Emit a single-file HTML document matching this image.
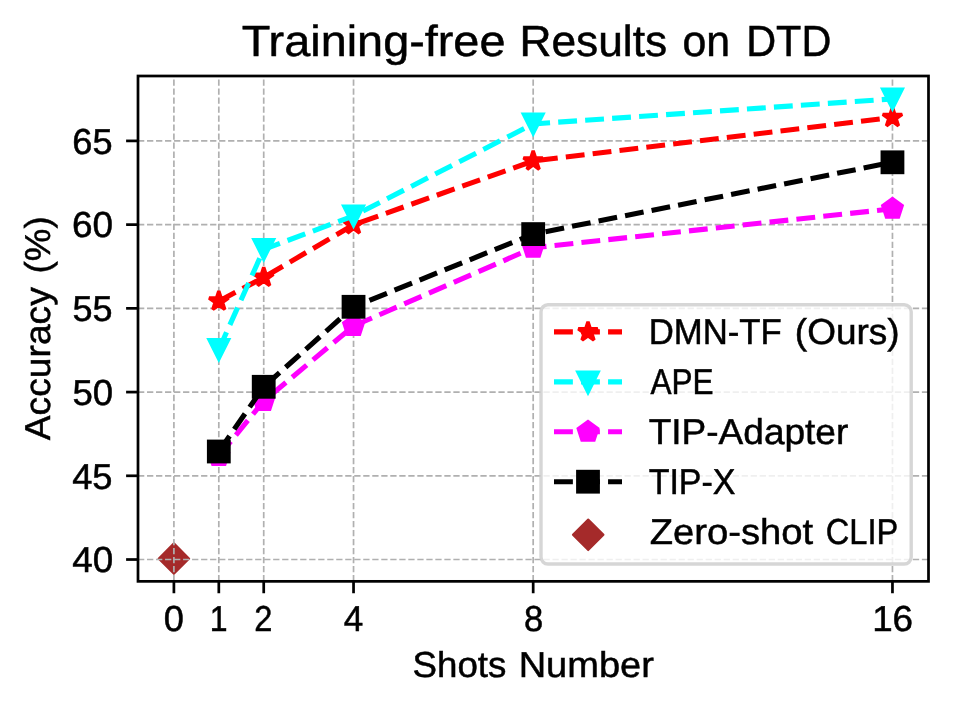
<!DOCTYPE html>
<html lang="en"><head><meta charset="utf-8"><title>Training-free Results on DTD</title>
<style>html,body{margin:0;padding:0;background:#fff;}body{width:953px;height:709px;overflow:hidden;}svg{display:block;will-change:transform;}text{font-family:"Liberation Sans",sans-serif;fill:#000;stroke:#000;stroke-width:0.5px;text-rendering:geometricPrecision;}</style></head><body>
<svg width="953" height="709" viewBox="0 0 953 709">
<rect x="0" y="0" width="953" height="709" fill="#fff"/>
<polygon points="173.9,543.3 189.2,558.6 173.9,573.9 158.6,558.6" fill="#a52a2a" stroke="#a52a2a" stroke-width="2" stroke-linejoin="round"/>
<g stroke="#b0b0b0" stroke-width="1.7" stroke-dasharray="6.29 2.72" fill="none"><line x1="173.9" y1="581.35" x2="173.9" y2="76"/><line x1="218.81" y1="581.35" x2="218.81" y2="76"/><line x1="263.72" y1="581.35" x2="263.72" y2="76"/><line x1="353.54" y1="581.35" x2="353.54" y2="76"/><line x1="533.18" y1="581.35" x2="533.18" y2="76"/><line x1="892.46" y1="581.35" x2="892.46" y2="76"/><line x1="138" y1="559.52" x2="928.5" y2="559.52"/><line x1="138" y1="475.8" x2="928.5" y2="475.8"/><line x1="138" y1="392.08" x2="928.5" y2="392.08"/><line x1="138" y1="308.35" x2="928.5" y2="308.35"/><line x1="138" y1="224.62" x2="928.5" y2="224.62"/><line x1="138" y1="140.9" x2="928.5" y2="140.9"/></g>
<polyline points="218.81,301.2 263.72,277.4 353.54,224.8 533.18,161 892.46,117.5" fill="none" stroke="#ff0000" stroke-width="5.1" stroke-dasharray="18.87 8.16"/>
<polygon points="218.81,291 216.52,298.05 209.11,298.05 215.1,302.4 212.81,309.45 218.81,305.1 224.81,309.45 222.52,302.4 228.51,298.05 221.1,298.05" fill="#ff0000" stroke="#ff0000" stroke-width="3.4" stroke-linejoin="bevel"/>
<polygon points="263.72,267.2 261.43,274.25 254.02,274.25 260.01,278.6 257.72,285.65 263.72,281.3 269.72,285.65 267.43,278.6 273.42,274.25 266.01,274.25" fill="#ff0000" stroke="#ff0000" stroke-width="3.4" stroke-linejoin="bevel"/>
<polygon points="353.54,214.6 351.25,221.65 343.84,221.65 349.83,226 347.54,233.05 353.54,228.7 359.54,233.05 357.25,226 363.24,221.65 355.83,221.65" fill="#ff0000" stroke="#ff0000" stroke-width="3.4" stroke-linejoin="bevel"/>
<polygon points="533.18,150.8 530.89,157.85 523.48,157.85 529.47,162.2 527.18,169.25 533.18,164.9 539.18,169.25 536.89,162.2 542.88,157.85 535.47,157.85" fill="#ff0000" stroke="#ff0000" stroke-width="3.4" stroke-linejoin="bevel"/>
<polygon points="892.46,107.3 890.17,114.35 882.76,114.35 888.75,118.7 886.46,125.75 892.46,121.4 898.46,125.75 896.17,118.7 902.16,114.35 894.75,114.35" fill="#ff0000" stroke="#ff0000" stroke-width="3.4" stroke-linejoin="bevel"/>

<polyline points="218.81,349.5 263.72,249.4 353.54,215.9 533.18,123.9 892.46,98.9" fill="none" stroke="#00ffff" stroke-width="5.1" stroke-dasharray="18.87 8.16"/>
<polygon points="218.81,359.3 228.61,339.7 209.01,339.7" fill="#00ffff" stroke="#00ffff" stroke-width="3.4" stroke-linejoin="miter" stroke-miterlimit="10"/>
<polygon points="263.72,259.2 273.52,239.6 253.92,239.6" fill="#00ffff" stroke="#00ffff" stroke-width="3.4" stroke-linejoin="miter" stroke-miterlimit="10"/>
<polygon points="353.54,225.7 363.34,206.1 343.74,206.1" fill="#00ffff" stroke="#00ffff" stroke-width="3.4" stroke-linejoin="miter" stroke-miterlimit="10"/>
<polygon points="533.18,133.7 542.98,114.1 523.38,114.1" fill="#00ffff" stroke="#00ffff" stroke-width="3.4" stroke-linejoin="miter" stroke-miterlimit="10"/>
<polygon points="892.46,108.7 902.26,89.1 882.66,89.1" fill="#00ffff" stroke="#00ffff" stroke-width="3.4" stroke-linejoin="miter" stroke-miterlimit="10"/>

<polyline points="218.81,456 263.72,401 353.54,326 533.18,247.8 892.46,208.8" fill="none" stroke="#ff00ff" stroke-width="5.1" stroke-dasharray="18.87 8.16"/>
<polygon points="218.81,445.8 209.11,452.85 212.81,464.25 224.81,464.25 228.51,452.85" fill="#ff00ff" stroke="#ff00ff" stroke-width="3.4" stroke-linejoin="miter"/>
<polygon points="263.72,390.8 254.02,397.85 257.72,409.25 269.72,409.25 273.42,397.85" fill="#ff00ff" stroke="#ff00ff" stroke-width="3.4" stroke-linejoin="miter"/>
<polygon points="353.54,315.8 343.84,322.85 347.54,334.25 359.54,334.25 363.24,322.85" fill="#ff00ff" stroke="#ff00ff" stroke-width="3.4" stroke-linejoin="miter"/>
<polygon points="533.18,237.6 523.48,244.65 527.18,256.05 539.18,256.05 542.88,244.65" fill="#ff00ff" stroke="#ff00ff" stroke-width="3.4" stroke-linejoin="miter"/>
<polygon points="892.46,198.6 882.76,205.65 886.46,217.05 898.46,217.05 902.16,205.65" fill="#ff00ff" stroke="#ff00ff" stroke-width="3.4" stroke-linejoin="miter"/>

<polyline points="218.81,451.5 263.72,386.8 353.54,306.8 533.18,234.1 892.46,162.3" fill="none" stroke="#000000" stroke-width="5.1" stroke-dasharray="18.87 8.16"/>
<rect x="206.91" y="439.6" width="23.8" height="23.8" fill="#000000"/>
<rect x="251.82" y="374.9" width="23.8" height="23.8" fill="#000000"/>
<rect x="341.64" y="294.9" width="23.8" height="23.8" fill="#000000"/>
<rect x="521.28" y="222.2" width="23.8" height="23.8" fill="#000000"/>
<rect x="880.56" y="150.4" width="23.8" height="23.8" fill="#000000"/>

<g stroke="#000" stroke-width="2.72" fill="none"><line x1="173.9" y1="581.35" x2="173.9" y2="593.25"/><line x1="218.81" y1="581.35" x2="218.81" y2="593.25"/><line x1="263.72" y1="581.35" x2="263.72" y2="593.25"/><line x1="353.54" y1="581.35" x2="353.54" y2="593.25"/><line x1="533.18" y1="581.35" x2="533.18" y2="593.25"/><line x1="892.46" y1="581.35" x2="892.46" y2="593.25"/><line x1="126.1" y1="559.52" x2="138" y2="559.52"/><line x1="126.1" y1="475.8" x2="138" y2="475.8"/><line x1="126.1" y1="392.08" x2="138" y2="392.08"/><line x1="126.1" y1="308.35" x2="138" y2="308.35"/><line x1="126.1" y1="224.62" x2="138" y2="224.62"/><line x1="126.1" y1="140.9" x2="138" y2="140.9"/></g>
<rect x="138" y="76" width="790.5" height="505.35" fill="none" stroke="#000" stroke-width="2.72" stroke-linejoin="miter"/>
<rect x="541" y="304.8" width="370.2" height="259.2" rx="6.9" ry="6.9" fill="#fff" fill-opacity="0.8" stroke="#ccc" stroke-opacity="0.8" stroke-width="3.4"/>
<line x1="554" y1="331.9" x2="622" y2="331.9" stroke="#ff0000" stroke-width="5.1" stroke-dasharray="18.87 8.16"/>
<polygon points="588,321.7 585.71,328.75 578.3,328.75 584.29,333.1 582,340.15 588,335.8 594,340.15 591.71,333.1 597.7,328.75 590.29,328.75" fill="#ff0000" stroke="#ff0000" stroke-width="3.4" stroke-linejoin="bevel"/>
<line x1="554" y1="381.9" x2="622" y2="381.9" stroke="#00ffff" stroke-width="5.1" stroke-dasharray="18.87 8.16"/>
<polygon points="588,392.4 598.1,372.2 577.9,372.2" fill="#00ffff" stroke="#00ffff" stroke-width="3.4" stroke-linejoin="miter" stroke-miterlimit="10"/>
<line x1="554" y1="431.8" x2="622" y2="431.8" stroke="#ff00ff" stroke-width="5.1" stroke-dasharray="18.87 8.16"/>
<polygon points="588,421.6 578.3,428.65 582,440.05 594,440.05 597.7,428.65" fill="#ff00ff" stroke="#ff00ff" stroke-width="3.4" stroke-linejoin="miter"/>
<line x1="554" y1="481.7" x2="622" y2="481.7" stroke="#000000" stroke-width="5.1" stroke-dasharray="18.87 8.16"/>
<rect x="576.1" y="469.8" width="23.8" height="23.8" fill="#000000"/>
<polygon points="588.2,519.5 603.5,534.8 588.2,550.1 572.9,534.8" fill="#a52a2a" stroke="#a52a2a" stroke-width="2" stroke-linejoin="round"/>
<text y="55.6" font-size="43.6"><tspan x="241.75" textLength="263.69" lengthAdjust="spacingAndGlyphs">Training-free</tspan> <tspan x="519.45" textLength="147.75" lengthAdjust="spacingAndGlyphs">Results</tspan> <tspan x="682.53" textLength="47.63" lengthAdjust="spacingAndGlyphs">on</tspan> <tspan x="746.16" textLength="85.14" lengthAdjust="spacingAndGlyphs">DTD</tspan></text>
<text y="677.4" font-size="36"><tspan x="412.57" textLength="93.82" lengthAdjust="spacingAndGlyphs">Shots</tspan> <tspan x="518.65" textLength="135.32" lengthAdjust="spacingAndGlyphs">Number</tspan></text>
<text transform="translate(50.4 0) rotate(-90)" y="0" font-size="36"><tspan x="-440.2" textLength="152.94" lengthAdjust="spacingAndGlyphs">Accuracy</tspan> <tspan x="-273.44" textLength="57.08" lengthAdjust="spacingAndGlyphs">(%)</tspan></text>
<text y="153.6" font-size="36"><tspan x="72.29" textLength="40.26" lengthAdjust="spacingAndGlyphs">65</tspan></text>
<text y="237.3" font-size="36"><tspan x="72.06" textLength="41.12" lengthAdjust="spacingAndGlyphs">60</tspan></text>
<text y="321.05" font-size="36"><tspan x="72.5" textLength="40.05" lengthAdjust="spacingAndGlyphs">55</tspan></text>
<text y="404.8" font-size="36"><tspan x="72.48" textLength="40.69" lengthAdjust="spacingAndGlyphs">50</tspan></text>
<text y="488.5" font-size="36"><tspan x="72.2" textLength="40.36" lengthAdjust="spacingAndGlyphs">45</tspan></text>
<text y="572.2" font-size="36"><tspan x="72.19" textLength="40.99" lengthAdjust="spacingAndGlyphs">40</tspan></text>
<text y="630.9" font-size="36"><tspan x="163.89" textLength="20.15" lengthAdjust="spacingAndGlyphs">0</tspan></text>
<text y="630.9" font-size="36"><tspan x="209.77" textLength="17.81" lengthAdjust="spacingAndGlyphs">1</tspan></text>
<text y="630.9" font-size="36"><tspan x="254.14" textLength="18.16" lengthAdjust="spacingAndGlyphs">2</tspan></text>
<text y="630.9" font-size="36"><tspan x="343.71" textLength="19.5" lengthAdjust="spacingAndGlyphs">4</tspan></text>
<text y="630.9" font-size="36"><tspan x="523.95" textLength="19.23" lengthAdjust="spacingAndGlyphs">8</tspan></text>
<text y="630.9" font-size="36"><tspan x="872.15" textLength="40.93" lengthAdjust="spacingAndGlyphs">16</tspan></text>
<text y="343.9" font-size="36"><tspan x="648.64" textLength="133.17" lengthAdjust="spacingAndGlyphs">DMN-TF</tspan> <tspan x="794.84" textLength="104.82" lengthAdjust="spacingAndGlyphs">(Ours)</tspan></text>
<text y="394" font-size="36"><tspan x="650.39" textLength="63.1" lengthAdjust="spacingAndGlyphs">APE</tspan></text>
<text y="443.7" font-size="36"><tspan x="648.69" textLength="199.62" lengthAdjust="spacingAndGlyphs">TIP-Adapter</tspan></text>
<text y="493.6" font-size="36"><tspan x="648.63" textLength="86.84" lengthAdjust="spacingAndGlyphs">TIP-X</tspan></text>
<text y="543.8" font-size="36"><tspan x="649.65" textLength="163.43" lengthAdjust="spacingAndGlyphs">Zero-shot</tspan> <tspan x="825.74" textLength="72.44" lengthAdjust="spacingAndGlyphs">CLIP</tspan></text>
</svg></body></html>
